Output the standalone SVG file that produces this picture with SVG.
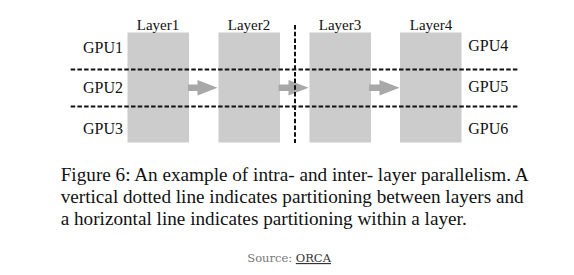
<svg xmlns="http://www.w3.org/2000/svg" width="574" height="275" viewBox="0 0 574 275">
<style>
.box{fill:#cccccc}
.arrow{fill:#a8a8a8}
.lbl{font-family:"Liberation Serif","Times New Roman",serif;font-size:15px;fill:#111}
.gpu{font-family:"Liberation Serif","Times New Roman",serif;font-size:16px;fill:#111}
.cap{font-family:"Liberation Serif","Times New Roman",serif;font-size:19.2px;fill:#111}
.src{font-family:"DejaVu Serif",serif;font-size:11.5px;fill:#777}
.dash{stroke:#111;stroke-width:2;stroke-dasharray:4.5 2.2;fill:none}
</style>
<rect width="574" height="275" fill="#ffffff"/>
<g id="layer1"><rect class="box" x="127.5" y="32.5" width="61.5" height="110"/><text class="lbl" x="158" y="30" text-anchor="middle">Layer1</text></g>
<g id="layer2"><rect class="box" x="218.5" y="32.5" width="61.5" height="110"/><text class="lbl" x="249" y="30" text-anchor="middle">Layer2</text></g>
<g id="layer3"><rect class="box" x="309.5" y="32.5" width="61.5" height="110"/><text class="lbl" x="340" y="30" text-anchor="middle">Layer3</text></g>
<g id="layer4"><rect class="box" x="400" y="32.5" width="61.5" height="110"/><text class="lbl" x="431" y="30" text-anchor="middle">Layer4</text></g>
<g id="gpus">
<text class="gpu" x="83" y="52.5">GPU1</text>
<text class="gpu" x="83" y="93">GPU2</text>
<text class="gpu" x="83" y="134">GPU3</text>
<text class="gpu" x="468.3" y="51">GPU4</text>
<text class="gpu" x="468.3" y="92">GPU5</text>
<text class="gpu" x="468.3" y="133.5">GPU6</text>
</g>
<g id="connectors">
<polygon class="arrow" points="188,84.5 197.5,84.5 197.5,80 217.5,87.7 197.5,95.5 197.5,91 188,91"/>
<polygon class="arrow" points="278.5,84.5 288.5,84.5 288.5,80 308.5,87.7 288.5,95.5 288.5,91 278.5,91"/>
<polygon class="arrow" points="369,84.5 379.5,84.5 379.5,80 399.5,87.7 379.5,95.5 379.5,91 369,91"/>
<line class="dash" x1="70.7" y1="69.5" x2="518.5" y2="69.5"/>
<line class="dash" x1="70.7" y1="106.5" x2="518.5" y2="106.5"/>
<line class="dash" x1="295" y1="25" x2="295" y2="143"/>
</g>
<g id="caption">
<text class="cap" x="60.7" y="181">Figure 6: An example of intra- and inter- layer parallelism. A</text>
<text class="cap" x="60.7" y="203">vertical dotted line indicates partitioning between layers and</text>
<text class="cap" x="60.7" y="225">a horizontal line indicates partitioning within a layer.</text>
</g>
<g id="source">
<text class="src" x="247.3" y="262">Source: <tspan text-decoration="underline" fill="#333">ORCA</tspan></text>
</g>
</svg>
